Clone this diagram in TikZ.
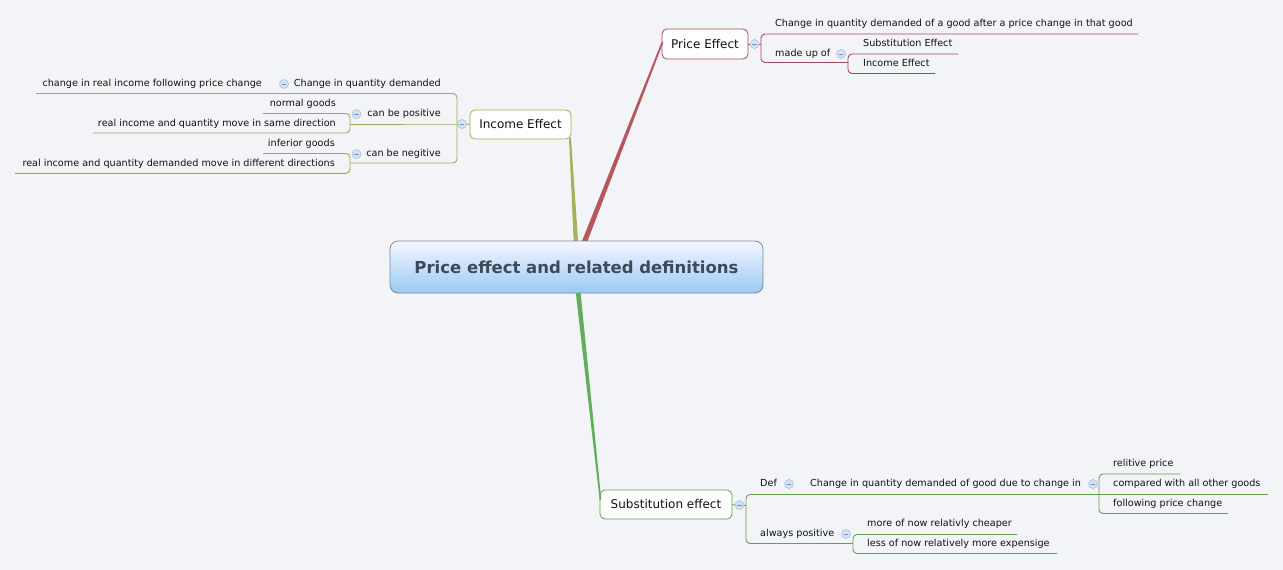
\documentclass[tikz,border=0pt]{standalone}
\usepackage{fontspec}
\setmainfont{DejaVu Sans}
\usetikzlibrary{calc}
\definecolor{bg}{HTML}{F3F4F7}
\definecolor{txt}{HTML}{111111}
\definecolor{roottxt}{HTML}{3E4A5A}
\definecolor{rootborder}{HTML}{7A8A9C}
\definecolor{prc}{HTML}{B5575C}
\definecolor{prl}{HTML}{A04E54}
\definecolor{olc}{HTML}{A9B05A}
\definecolor{oll}{HTML}{A2A85A}
\definecolor{grc}{HTML}{62AE5C}
\definecolor{grl}{HTML}{62A052}
\definecolor{circfill}{HTML}{D5E3F6}
\definecolor{circdraw}{HTML}{A3BADB}
\definecolor{circminus}{HTML}{7090C0}
\tikzset{
  leaf/.style={font=\fontsize{9.65}{11}\selectfont, text=txt, inner sep=0pt},
  lw/.style={leaf, anchor=mid west},
  le/.style={leaf, anchor=mid east},
  topicbox/.style={draw=#1, fill=white, rounded corners=5pt, line width=0.8pt, font=\fontsize{12}{14}\selectfont, text=txt, inner sep=0pt},
  collapse/.style={circle, minimum size=9pt, inner sep=0pt, draw=circdraw, fill=circfill, line width=0.5pt,
    path picture={\draw[circminus, line width=0.7pt] ($(path picture bounding box.center)+(-2.2,0)$) -- ++(4.4,0);}},
  conn/.style={line width=0.9pt, rounded corners=4pt},
}
\newcommand{\taper}[5]{%
  \fill[#5] ($(#1)!#3!90:(#2)$) -- ($(#2)!#4!-90:(#1)$) -- ($(#2)!#4!90:(#1)$) -- ($(#1)!#3!-90:(#2)$) -- cycle;}
\begin{document}
\begin{tikzpicture}[x=1pt,y=-1pt]
\fill[bg] (0,0) rectangle (1283,570);
\useasboundingbox (0,0) rectangle (1283,570);

% main topics
\node[topicbox=prl, minimum width=86pt, minimum height=30pt] (pe) at (705,44) {Price Effect};
\node[topicbox=oll, minimum width=101pt, minimum height=29pt] (ie) at (520.5,124.5) {Income Effect};
\node[topicbox=grl, minimum width=132pt, minimum height=29pt] (se) at (666,504.5) {Substitution effect};

% branches (tapered)
\coordinate (prA) at (584,243);
\coordinate (prB) at (662.5,42);
\coordinate (olA) at (576,243);
\coordinate (olB) at (570,138);
\coordinate (grA) at (578,291);
\coordinate (grB) at (600.5,500);
\taper{prA}{prB}{2.6pt}{0.8pt}{prc}
\taper{olA}{olB}{2.2pt}{1pt}{olc}
\taper{grA}{grB}{2.4pt}{0.8pt}{grc}

% root
\node[draw=rootborder, line width=0.8pt, rounded corners=8pt, top color=white!70!blue!12, bottom color={rgb,255:red,154;green,202;blue,244},
  minimum width=373pt, minimum height=52pt, inner sep=0pt, text=roottxt,
  font=\fontsize{16.5}{20}\selectfont\bfseries] (root) at (576.5,267) {Price effect and related definitions};

% ---------- Price Effect ----------
\node[collapse] (cpe) at (754.5,44) {};
\draw[prl, line width=0.9pt] (pe.east) -- (cpe.west);
\draw[prl, conn] (1138,34) -| (761,62.5) -- (848,62.5);
\draw[prl, line width=0.9pt] (cpe.east) -- (761,44);
\draw[prl, conn] (958,54) -| (848,73.5) -- (935,73.5);
\node[lw] (pe1) at (775,24) {Change in quantity demanded of a good after a price change in that good};
\node[lw] (pe2) at (775,54) {made up of};
\node[collapse] (cpe2) at (841,54) {};
\node[lw] (pe21) at (863,44) {Substitution Effect};
\node[lw] (pe22) at (863,64) {Income Effect};

% ---------- Income Effect ----------
\node[collapse] (cie) at (462,124) {};
\draw[oll, conn] (36,93.5) -| (457,163) -- (350,163);
\draw[oll, line width=0.9pt] (cie.west) -- (457,124) -- (350,124);
\draw[oll, line width=0.9pt] (ie.west) -- (cie.east);
\draw[oll, conn] (263,113.5) -| (350,133) -- (93,133);
\draw[oll, conn] (263,153.5) -| (350,173.3) -- (15,173.3);
\node[le] (ie1) at (441,84) {Change in quantity demanded};
\node[collapse] (cie1) at (284,84) {};
\node[le] (ie11) at (262,84) {change in real income following price change};
\node[le] (ie2) at (441,114) {can be positive};
\node[collapse] (cie2) at (356.5,114) {};
\node[le] (ie21) at (336,104) {normal goods};
\node[le] (ie22) at (336,124) {real income and quantity move in same direction};
\node[le] (ie3) at (441,154) {can be negitive};
\node[collapse] (cie3) at (356.5,154) {};
\node[le] (ie31) at (335,144) {inferior goods};
\node[le] (ie32) at (335,164) {real income and quantity demanded move in different directions};

% ---------- Substitution effect ----------
\node[collapse] (cse) at (739.5,505) {};
\draw[grl, line width=0.9pt] (se.east) -- (cse.west);
\draw[grl, line width=0.9pt] (cse.east) -- (746,505);
\draw[grl, conn] (1268,494.5) -| (746,543.5) -- (853,543.5);
\draw[grl, conn] (1180,474) -| (1099,513.5) -- (1228,513.5);
\draw[grl, conn] (1017,534.5) -| (853,553.5) -- (1057,553.5);
\node[lw] (se1) at (760,484) {Def};
\node[collapse] (cse1) at (789,484) {};
\node[lw] (se11) at (810,484) {Change in quantity demanded of good due to change in};
\node[collapse] (cse11) at (1093,484) {};
\node[lw] (se111) at (1113,464) {relitive price};
\node[lw] (se112) at (1113,484) {compared with all other goods};
\node[lw] (se113) at (1113,504) {following price change};
\node[lw] (se2) at (760,534) {always positive};
\node[collapse] (cse2) at (846,534) {};
\node[lw] (se21) at (867,524) {more of now relativly cheaper};
\node[lw] (se22) at (867,544) {less of now relatively more expensige};
\end{tikzpicture}
\end{document}
